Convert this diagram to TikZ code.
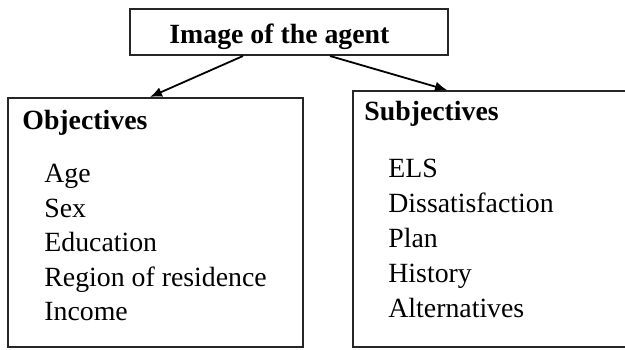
\documentclass[tikz,border=0pt]{standalone}
\usepackage{fontspec}
\setmainfont{Liberation Serif}
\usetikzlibrary{arrows.meta}
\begin{document}
\begin{tikzpicture}[x=0.5pt,y=-0.5pt,
  frame/.style={draw=black!85,line width=1pt,rectangle,inner sep=0pt},
  head/.style={anchor=base west,inner sep=0pt,font=\fontsize{13.9}{16}\selectfont\bfseries},
  item/.style={anchor=base west,inner sep=0pt,font=\fontsize{13.9}{16}\selectfont},
  link/.style={line width=0.9pt,-{Latex[length=6pt,width=5pt]}}]
\useasboundingbox (0,0) rectangle (625,349);

% boxes
\node[frame,minimum width=159pt,minimum height=23pt] (top) at (289,32) {};
\node[frame,minimum width=147.5pt,minimum height=124.5pt] (obj) at (155.5,222.5) {};
\node[frame,minimum width=138.5pt,minimum height=128pt] (subj) at (491.5,219) {};

% title
\node[head] (title) at (169,43) {Image of the agent};

% objective attributes
\node[head] (objh) at (22,129) {Objectives};
\node[item] (o1) at (44,182) {Age};
\node[item] (o2) at (44,217) {Sex};
\node[item] (o3) at (44,251) {Education};
\node[item] (o4) at (44,286) {Region of residence};
\node[item] (o5) at (44,320) {Income};

% subjective attributes
\node[head] (subh) at (364,120) {Subjectives};
\node[item] (s1) at (388,177) {ELS};
\node[item] (s2) at (388,212) {Dissatisfaction};
\node[item] (s3) at (388,247) {Plan};
\node[item] (s4) at (388,282) {History};
\node[item] (s5) at (388,317) {Alternatives};

% connectors
\draw[link] ([xshift=-23pt]top.south) -- ([xshift=-2.75pt]obj.north);
\draw[link] ([xshift=20.5pt]top.south) -- ([xshift=-22.25pt]subj.north);
\end{tikzpicture}
\end{document}
